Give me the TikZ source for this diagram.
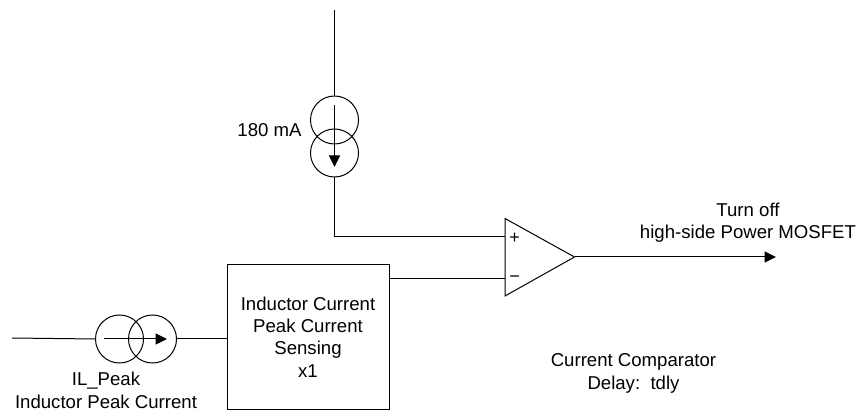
\documentclass[tikz,border=0pt]{standalone}
\usepackage{fontspec}
\setmainfont{Liberation Sans}
\usetikzlibrary{arrows.meta}
\tikzset{
  ring/.style={circle,draw,line width=1pt,minimum size=48pt,inner sep=0pt,outer sep=0pt},
  wire/.style={line width=1pt},
  tip/.style={wire,-{Triangle[length=11.5pt,width=11pt]}},
  lbl/.style={font=\fontsize{18.6}{22.4}\selectfont,align=center,inner sep=0pt},
  pm/.style={font=\fontsize{18}{18}\selectfont,inner sep=0pt}
}
\begin{document}
\begin{tikzpicture}[x=1pt,y=-1pt]
\useasboundingbox (0,0) rectangle (859,411);
\coordinate (top) at (334.5,10);
\node[ring] (s1) at (334.5,120) {};
\node[ring] (s2) at (334.5,153) {};
\coordinate (a1) at (334.5,105);
\coordinate (a2) at (334.5,167);
\coordinate (corner) at (334.5,236.5);
\node[draw,line width=1pt,minimum width=162pt,minimum height=144pt,inner sep=0pt,outer sep=0pt,lbl] (box) at (308,337) {Inductor Current\\Peak Current\\Sensing\\x1};
\coordinate (cl) at (505,218.5);
\coordinate (cb) at (505,296);
\coordinate (ct) at (574.5,257);
\draw[wire,line join=miter] (cl) -- (ct) -- (cb) -- cycle;
\coordinate (ip) at (505,236.5);
\coordinate (im) at (505,278.5);
\coordinate (out) at (776,257);
\node[ring] (l1) at (119.5,339) {};
\node[ring] (l2) at (152.5,339) {};
\coordinate (in) at (12,338);
\coordinate (b1) at (104,339);
\coordinate (b2) at (167,339);
\draw[wire] (top) -- (s1.north);
\draw[tip] (a1) -- (a2);
\draw[wire] (s2.south) -- (corner) -- (ip);
\draw[wire] (box.east |- im) -- (im);
\draw[tip] (ct) -- (out);
\draw[wire] (in) -- (l1.west);
\draw[tip] (b1) -- (b2);
\draw[wire] (l2.east) -- (box.west |- l2.east);
\node[pm] (plus) at (514.5,238) {+};
\node[pm] (minus) at (514.5,279) {−};
\node[lbl] (n180) at (269.5,130) {180 mA};
\node[lbl] (off) at (748,222.5) {Turn off\\high-side Power MOSFET};
\node[lbl] (pk) at (106,390.5) {IL\_Peak\\Inductor Peak Current};
\node[lbl] (dly) at (633.5,373.5) {Current Comparator\\Delay:\ \ tdly};
\end{tikzpicture}
\end{document}
